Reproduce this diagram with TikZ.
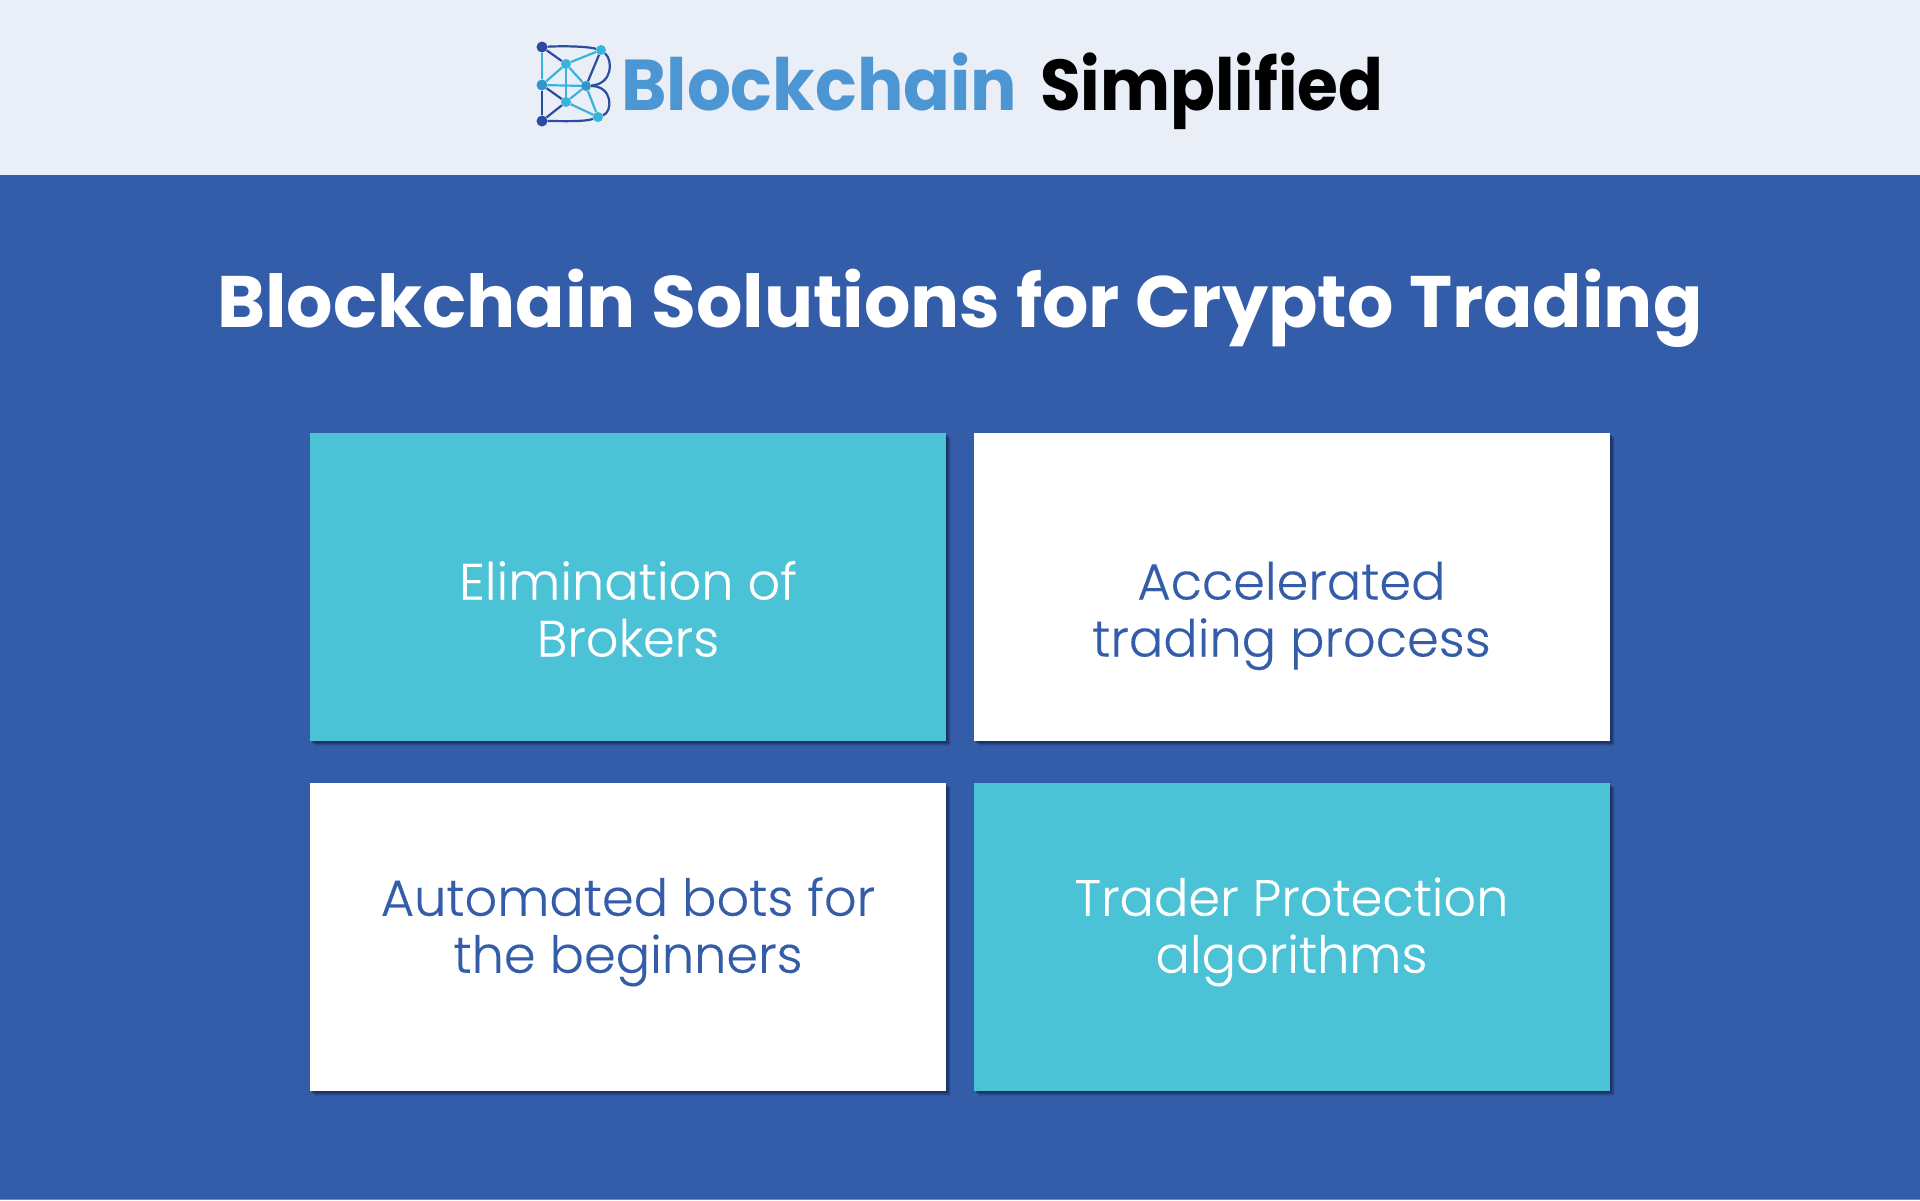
\documentclass[tikz,border=0pt]{standalone}
\usepackage{fontspec}
\setmainfont{Poppins}
\newfontfamily\poplight[FakeBold=0.2]{Poppins Light}
\usetikzlibrary{shadows}
\definecolor{bluebg}{HTML}{335CA9}
\definecolor{headbg}{HTML}{E9EEF7}
\definecolor{teal}{HTML}{4CC2D7}
\definecolor{logoblue}{HTML}{4C97D3}
\definecolor{dk}{HTML}{2B4C9F}
\definecolor{lt}{HTML}{38B4DC}
\definecolor{shad}{HTML}{14254F}
\newcommand{\cardtext}[4]{#3\rule{0pt}{#1pt}\\#4\rule[-#2pt]{0pt}{#2pt}}
\tikzset{
 card/.style={minimum width=636pt,minimum height=308pt,inner sep=0pt,align=center,
   font=\poplight\fontsize{51}{57}\selectfont,
   drop shadow={shadow xshift=5pt,shadow yshift=-5pt,fill=shad,opacity=.12},
   drop shadow={shadow xshift=4pt,shadow yshift=-4pt,fill=shad,opacity=.2},
   drop shadow={shadow xshift=3pt,shadow yshift=-3pt,fill=shad,opacity=.3},
   drop shadow={shadow xshift=2pt,shadow yshift=-2pt,fill=shad,opacity=.4}},
 tealcard/.style={card,fill=teal,text=white},
 whitecard/.style={card,fill=white,text=bluebg},
 dot/.style={circle,inner sep=0pt,minimum size=#1},
 dl/.style={draw=dk,line width=2.2pt},
 ll/.style={draw=lt,line width=2.2pt},
}
\begin{document}
\begin{tikzpicture}[x=1pt,y=-1pt]
\useasboundingbox (0,0) rectangle (1920,1200);
\fill[bluebg] (0,0) rectangle (1920,1200);
\fill[headbg] (0,0) rectangle (1920,175);
\fill[bluebg!70!white] (0,1198.5) rectangle (1920,1200);
% logo
\node[dot=11pt,fill=dk] (tl) at (542,47) {};
\node[dot=11pt,fill=lt!70!dk] (ml) at (542,85) {};
\node[dot=11pt,fill=dk] (bl) at (542,121) {};
\node[dot=10pt,fill=lt] (a) at (566,64) {};
\node[dot=10pt,fill=lt] (b) at (566,102) {};
\node[dot=10pt,fill=lt] (tr) at (601,50) {};
\node[dot=10pt,fill=lt!70!dk] (c) at (586,86) {};
\node[dot=10pt,fill=lt] (br) at (598,117) {};
\draw[dl] (tl) .. controls (560,46) and (585,46) .. (tr);
\draw[dl] (tr) .. controls (613,60) and (613,84) .. (c);
\draw[dl] (c) .. controls (613,86) and (613,112) .. (br);
\draw[dl] (bl) .. controls (560,121) and (585,122) .. (br);
\draw[dl] (tl) -- (a);
\draw[dl] (ml) -- (bl);
\draw[dl] (ml) -- (b);
\draw[dl] (tr) -- (c);
\draw[dl] (b) -- (bl);
\draw[ll] (tl) -- (ml);
\draw[ll] (a) -- (tr);
\draw[ll] (a) -- (ml);
\draw[ll] (a) -- (b);
\draw[ll] (a) -- (c);
\draw[ll] (ml) -- (c);
\draw[ll] (b) -- (c);
\draw[ll] (b) -- (br);
\draw[ll] (c) -- (br);
\node[anchor=base west,inner sep=0pt,text=logoblue,font=\bfseries\fontsize{72}{72}\selectfont,xscale=.958] (brand) at (621,110) {Blockchain};
\node[anchor=base west,inner sep=0pt,text=black,font=\bfseries\fontsize{72}{72}\selectfont,xscale=.918] (simp) at (1040,110) {Simplified};
% title
\node[text=white,inner sep=0pt,anchor=base,font=\bfseries\fontsize{72.9}{73}\selectfont] (title) at (960,327) {Blockchain Solutions for Crypto Trading};
% cards
\node[tealcard] (c1) at (628,587.25) {\cardtext{100}{18.5}{Elimination of}{Brokers}};
\node[whitecard] (c2) at (1291.5,587.25) {\cardtext{100}{18.5}{Accelerated}{trading process}};
\node[whitecard] (c3) at (628,937.25) {\cardtext{40}{26}{Automated bots for}{the beginners}};
\node[tealcard] (c4) at (1291.5,937.25) {\cardtext{40}{26}{Trader Protection}{algorithms}};
\end{tikzpicture}
\end{document}
